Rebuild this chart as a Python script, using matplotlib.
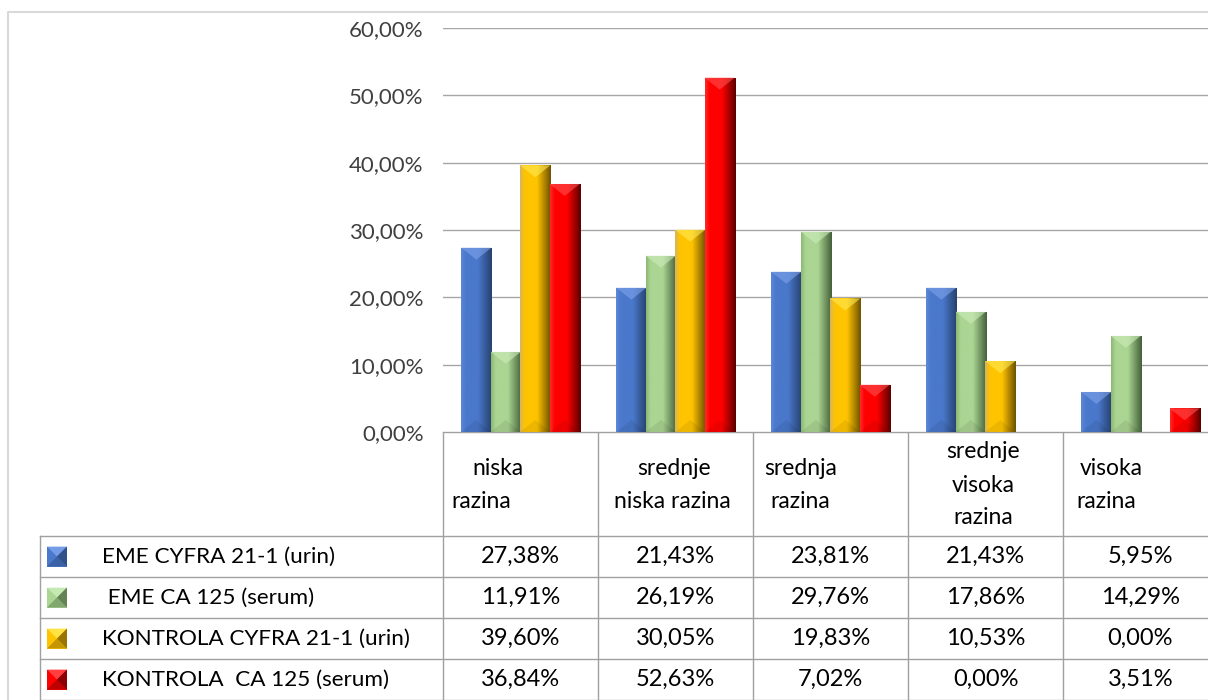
import numpy as np
import matplotlib
matplotlib.use("Agg")
import matplotlib.pyplot as plt
from matplotlib.colors import LinearSegmentedColormap
from matplotlib.patches import Polygon, Rectangle

plt.rcParams['font.family'] = ['Lato', 'DejaVu Sans']

# data
categories = ["niska razina", "srednje niska razina", "srednja razina",
              "srednje visoka razina", "visoka razina"]
header_lines = [["niska", "razina"], ["srednje", "niska razina"], ["srednja", "razina"],
                ["srednje", "visoka", "razina"], ["visoka", "razina"]]
series_names = ["EME CYFRA 21-1 (urin)", " EME CA 125 (serum)",
                "KONTROLA CYFRA 21-1 (urin)", "KONTROLA  CA 125 (serum)"]
eme_cyfra = [27.38, 21.43, 23.81, 21.43, 5.95]
eme_ca125 = [11.91, 26.19, 29.76, 17.86, 14.29]
kontrola_cyfra = [39.60, 30.05, 19.83, 10.53, 0.00]
kontrola_ca125 = [36.84, 52.63, 7.02, 0.00, 3.51]
y_ticks = [0, 10, 20, 30, 40, 50, 60]

series = [eme_cyfra, eme_ca125, kontrola_cyfra, kontrola_ca125]

# (edge light, base, dark, top bevel)
shades = [("#5E88D8", "#4A78CB", "#26416F", "#7FA4EC"),
          ("#8DB874", "#ABD592", "#44603A", "#CDEDBC"),
          ("#D8B45A", "#FFC400", "#6E5200", "#FFEA55"),
          ("#FF2A2A", "#FF0000", "#5A0000", "#FF5050")]

# horizontal offsets of the header lines inside each cell (px from the cell's left edge)
header_offsets = [[55, 38], [76, 74], [48, 47], [75, 75, 75], [48, 43]]

W, H = 1208, 700
fig = plt.figure(figsize=(W / 100, H / 100), dpi=100)
ax = fig.add_axes([443 / W, (H - 432) / H, 775 / W, (432 - 28) / H])

x = np.arange(len(categories))
bw = 0.195
step = 0.19
px_per_unit = (432 - 28) / 60.0
bevel = 12 / px_per_unit

for i, vals in enumerate(series):
    light, base, dark, top = shades[i]
    cmap = LinearSegmentedColormap.from_list("s%d" % i, [(0, light), (0.15, base), (0.55, base), (1, dark)])
    bars = ax.bar(x + (i - 1.5) * step, vals, bw, color=base, zorder=2,
                  edgecolor="#B0B0B0", linewidth=0.6)
    for b, v in zip(bars, vals):
        if v == 0:
            b.set_visible(False)
            continue
        x0, w, h = b.get_x(), b.get_width(), b.get_height()
        grad = np.linspace(0, 1, 100).reshape(1, -1)
        im = ax.imshow(grad, cmap=cmap, aspect='auto', extent=(x0, x0 + w, 0, h),
                       zorder=3, interpolation='bicubic')
        im.set_clip_path(b)
        d = min(bevel, h / 2)
        ax.add_patch(Polygon([(x0, h), (x0 + w, h), (x0 + w / 2, h - d)],
                             fc=top, ec='none', alpha=0.6, zorder=4))
        ax.add_patch(Polygon([(x0, 0), (x0 + w, 0), (x0 + w / 2, d)],
                             fc='black', ec='none', alpha=0.07, zorder=4))

ax.set_xlim(-0.5, len(categories) - 0.5)
ax.set_ylim(0, 60)
ax.set_yticks(y_ticks)
ax.set_yticklabels([("%.2f%%" % t).replace(".", ",") for t in y_ticks])
ax.set_xticks([])
ax.tick_params(axis='y', length=0, pad=14, labelsize=16, labelcolor="#404040")
ax.yaxis.grid(True, color="#A6A6A6", linewidth=1)
ax.set_axisbelow(True)
for s in ax.spines.values():
    s.set_visible(False)

# data table drawn under the plot in pixel coordinates
tax = fig.add_axes([0, 0, 1, 1], zorder=-1)
tax.set_xlim(0, W)
tax.set_ylim(H, 0)
tax.axis('off')

edges = [ax.transData.transform((e - 0.5, 0))[0] for e in range(len(categories) + 1)]
header_top = H - ax.transData.transform((0, 0))[1]
header_bottom = 536
row_h = 41
leg_left = 40
line_c = "#A0A0A0"
fs = 17

# chart border
tax.plot([8, 8, W + 5], [H + 5, 12, 12], color="#D9D9D9", lw=1.5)

tax.plot([edges[0], W + 5], [header_top, header_top], color=line_c, lw=1)
for e in edges[:-1]:
    tax.plot([e, e], [header_top, H + 5], color=line_c, lw=1)
tax.plot([leg_left, leg_left], [header_bottom, H + 5], color=line_c, lw=1)
for r in range(len(series) + 1):
    yy = header_bottom + r * row_h
    tax.plot([leg_left, W + 5], [yy, yy], color=line_c, lw=1)

for c, lines in enumerate(header_lines):
    n = len(lines)
    y0 = (header_top + header_bottom) / 2 - (n - 1) * 33 / 2 + 1
    for k, txt in enumerate(lines):
        tax.text(edges[c] + header_offsets[c][k], y0 + k * 33, txt, ha='center', va='center',
                 fontsize=16.5, color="black")

for r, (name, vals) in enumerate(zip(series_names, series)):
    yc = header_bottom + r * row_h + row_h / 2
    light, base, dark, top = shades[r]
    kx, ks = 47, 20
    ky = yc - ks / 2
    tax.add_patch(Rectangle((kx, ky), ks, ks, fc=base, ec='none'))
    cx, cy = kx + ks / 2, ky + ks / 2
    tax.add_patch(Polygon([(kx, ky), (kx + ks, ky), (cx, cy)], fc=top, ec='none', alpha=0.8))
    tax.add_patch(Polygon([(kx + ks, ky), (kx + ks, ky + ks), (cx, cy)], fc=dark, ec='none', alpha=0.7))
    tax.add_patch(Polygon([(kx, ky + ks), (kx + ks, ky + ks), (cx, cy)], fc=dark, ec='none', alpha=0.4))
    tax.text(102, yc, name, ha='left', va='center', fontsize=16.2, color="black")
    for c, v in enumerate(vals):
        tax.text((edges[c] + edges[c + 1]) / 2, yc, ("%.2f%%" % v).replace(".", ","),
                 ha='center', va='center', fontsize=fs, color="black")

fig.savefig("out.png", dpi=100)
